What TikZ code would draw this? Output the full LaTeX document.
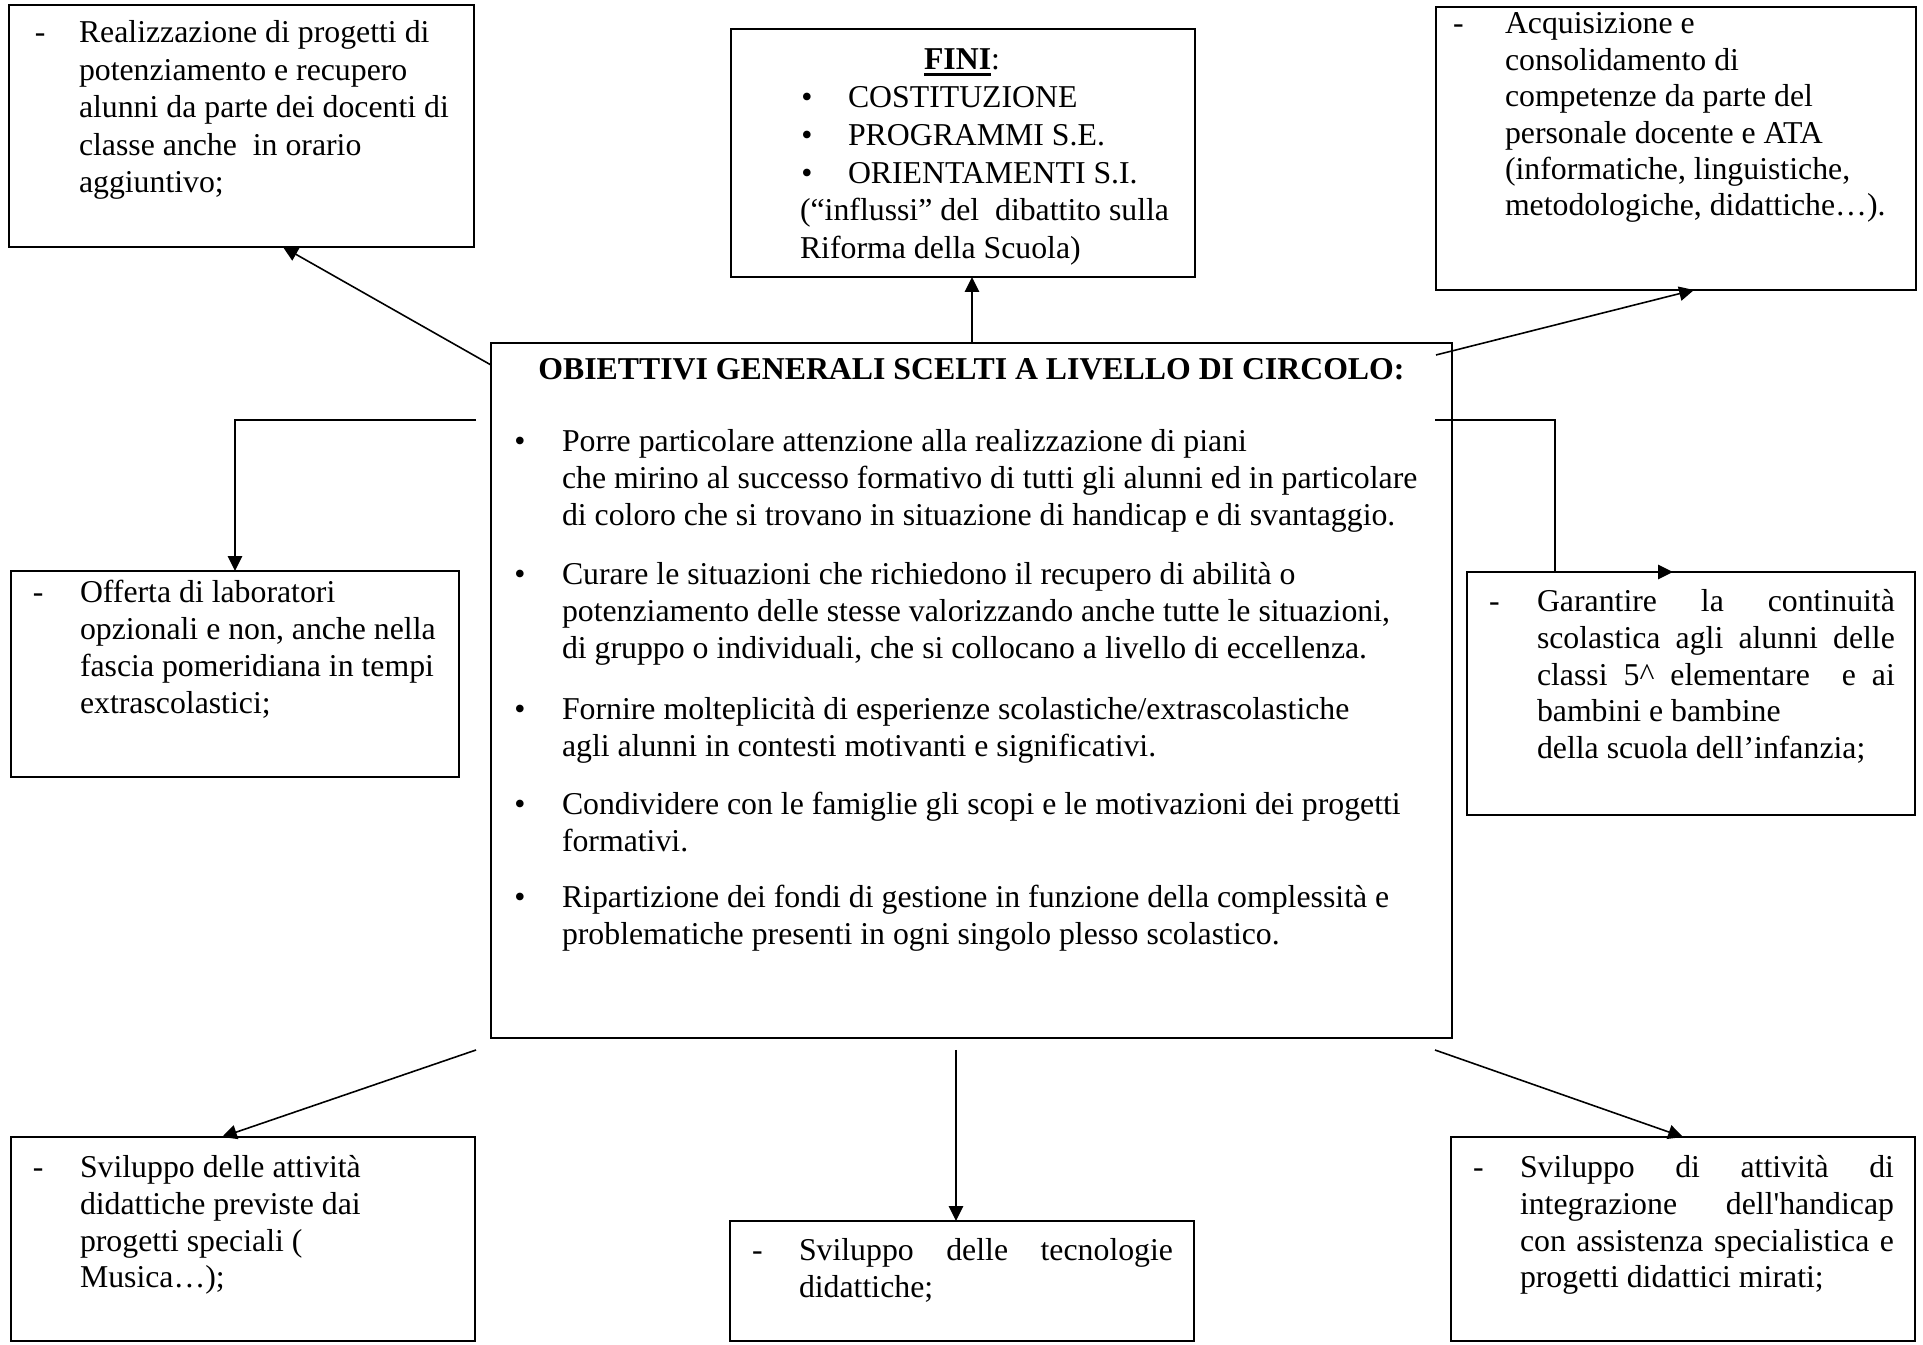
\documentclass[tikz,border=0pt]{standalone}
\usepackage{fontspec}
\setmainfont{Liberation Serif}[Ligatures=TeXOff]
\usetikzlibrary{arrows.meta,fit,calc}
\newcommand{\tb}[2]{\parbox[t]{330pt}{\raggedright\fontsize{12pt}{#1}\selectfont #2}}
\newcommand{\thickul}[1]{{\setbox0\hbox{#1}\rlap{\rule[-2.2pt]{\wd0}{0.9pt}}\box0}}
\begin{document}
\begin{tikzpicture}[x=0.3775pt,y=-0.3775pt,
  every node/.style={font=\fontsize{12pt}{13.8pt}\selectfont},
  box/.style={draw, line width=0.6pt, inner sep=0pt, outer sep=0pt, rectangle},
  conn/.style={line width=0.6pt, -{Triangle[length=5.6pt,width=5.4pt]}},
  txt/.style={anchor=base west, inner sep=0pt, outer sep=0pt},
  bul/.style={anchor=base, inner sep=0pt, outer sep=0pt}]
\useasboundingbox (0,0) rectangle (1923,1345);

% boxes
\node[box, fit={(9,5) (474,247)}] (tl) {};
\node[box, fit={(731,29) (1195,277)}] (fini) {};
\node[box, fit={(1436,7) (1916,290)}] (tr) {};
\node[box, fit={(491,343) (1452,1038)}] (main) {};
\node[box, fit={(11,571) (459,777)}] (off) {};
\node[box, fit={(1467,572) (1915,815)}] (gar) {};
\node[box, fit={(11,1137) (475,1341)}] (bl) {};
\node[box, fit={(730,1221) (1194,1341)}] (bc) {};
\node[box, fit={(1451,1137) (1915,1341)}] (br) {};

% top-left text
\node[txt] (tld) at (35,43) {-};
\node[txt] (tlt) at (79,43) {\tb{14.1pt}{Realizzazione di progetti di\\ potenziamento e recupero\\ alunni da parte dei docenti di\\ classe anche\ \ in orario\\ aggiuntivo;}};

% FINI
\node[bul] (finit) at (962,70) {\thickul{\textbf{FINI}}:};
\node[bul] (fb1) at (807,108) {•};
\node[bul] (fb2) at (807,145.7) {•};
\node[bul] (fb3) at (807,183.4) {•};
\node[txt] (fl) at (848,108) {\tb{14.23pt}{COSTITUZIONE\\ PROGRAMMI S.E.\\ ORIENTAMENTI S.I.}};
\node[txt] (fr) at (800,221) {\tb{14.23pt}{(“influssi” del\ \ dibattito sulla\\ Riforma della Scuola)}};

% top-right text
\node[txt] (trd) at (1453,34) {-};
\node[txt] (trt) at (1505,34) {\tb{13.74pt}{Acquisizione e\\ consolidamento di\\ competenze da parte del\\ personale docente e ATA\\ (informatiche, linguistiche,\\ metodologiche, didattiche…).}};

% main box
\node[bul] (mtitle) at (971.5,380) {\textbf{OBIETTIVI GENERALI SCELTI A LIVELLO DI CIRCOLO:}};
\node[bul] (mb1) at (520,452) {•};
\node[txt] (mp1) at (562,452) {\tb{13.8pt}{Porre particolare attenzione alla realizzazione di piani\\ che mirino al successo formativo di tutti gli alunni ed in particolare\\ di coloro che si trovano in situazione di handicap e di svantaggio.}};
\node[bul] (mb2) at (520,585) {•};
\node[txt] (mp2) at (562,585) {\tb{13.8pt}{Curare le situazioni che richiedono il recupero di abilità o\\ potenziamento delle stesse valorizzando anche tutte le situazioni,\\ di gruppo o individuali, che si collocano a livello di eccellenza.}};
\node[bul] (mb3) at (520,720) {•};
\node[txt] (mp3) at (562,720) {\tb{13.8pt}{Fornire molteplicità di esperienze scolastiche/extrascolastiche\\ agli alunni in contesti motivanti e significativi.}};
\node[bul] (mb4) at (520,815) {•};
\node[txt] (mp4) at (562,815) {\tb{13.8pt}{Condividere con le famiglie gli scopi e le motivazioni dei progetti\\ formativi.}};
\node[bul] (mb5) at (520,908) {•};
\node[txt] (mp5) at (562,908) {\tb{13.8pt}{Ripartizione dei fondi di gestione in funzione della complessità e\\ problematiche presenti in ogni singolo plesso scolastico.}};

% left middle text
\node[txt] (offd) at (33,603) {-};
\node[txt] (offt) at (80,603) {\tb{13.85pt}{Offerta di laboratori\\ opzionali e non, anche nella\\ fascia pomeridiana in tempi\\ extrascolastici;}};

% right middle text
\node[txt] (gard) at (1489,612) {-};
\node[txt] (gart) at (1537,612) {\tb{13.8pt}{\makebox[135.1pt][s]{Garantire la continuità}\\ \makebox[135.1pt][s]{scolastica agli alunni delle}\\ \makebox[135.1pt][s]{classi 5\textasciicircum{} elementare\ \ e ai}\\ bambini e bambine\\ della scuola dell’infanzia;}};

% bottom-left text
\node[txt] (bld) at (33,1178) {-};
\node[txt] (blt) at (80,1178) {\tb{13.8pt}{Sviluppo delle attività\\ didattiche previste dai\\ progetti speciali (\\ Musica…);}};

% bottom-centre text
\node[txt] (bcd) at (752,1261) {-};
\node[txt] (bct) at (799,1261) {\tb{13.8pt}{\makebox[141.2pt][s]{Sviluppo delle tecnologie}\\ didattiche;}};

% bottom-right text
\node[txt] (brd) at (1473,1178) {-};
\node[txt] (brt) at (1520,1178) {\tb{13.8pt}{\makebox[141.2pt][s]{Sviluppo di attività di}\\ \makebox[141.2pt][s]{integrazione dell'handicap}\\ \makebox[141.2pt][s]{con assistenza specialistica e}\\ progetti didattici mirati;}};

% connectors
\coordinate (s1) at ($(main.north west)+(0,22)$);
\coordinate (s2) at ($(main.north west)+(481,0)$);
\coordinate (s3) at ($(main.north east)+(-16,12)$);
\coordinate (s4) at ($(main.north west)+(-15,77)$);
\coordinate (s5) at ($(main.north east)+(-17,77)$);
\coordinate (s6) at ($(main.south west)+(-15,12)$);
\coordinate (s7) at ($(main.south west)+(465,12)$);
\coordinate (s8) at ($(main.south east)+(-17,12)$);

\draw[conn] (s1) -- ($(tl.south west)+(274,0)$);
\draw[conn] (s2) -- ($(fini.south west)+(241,0)$);
\draw[conn] (s3) -- ($(tr.south west)+(258,0)$);
\draw[conn] (s4) -| ($(off.north west)+(224,0)$);
\draw[conn] (s5) -| ($(gar.north west)+(88,0)$) -- ($(gar.north west)+(206,0)$);
\draw[conn] (s6) -- ($(bl.north west)+(211,0)$);
\draw[conn] (s7) -- ($(bc.north west)+(226,0)$);
\draw[conn] (s8) -- ($(br.north west)+(232,0)$);
\end{tikzpicture}
\end{document}
